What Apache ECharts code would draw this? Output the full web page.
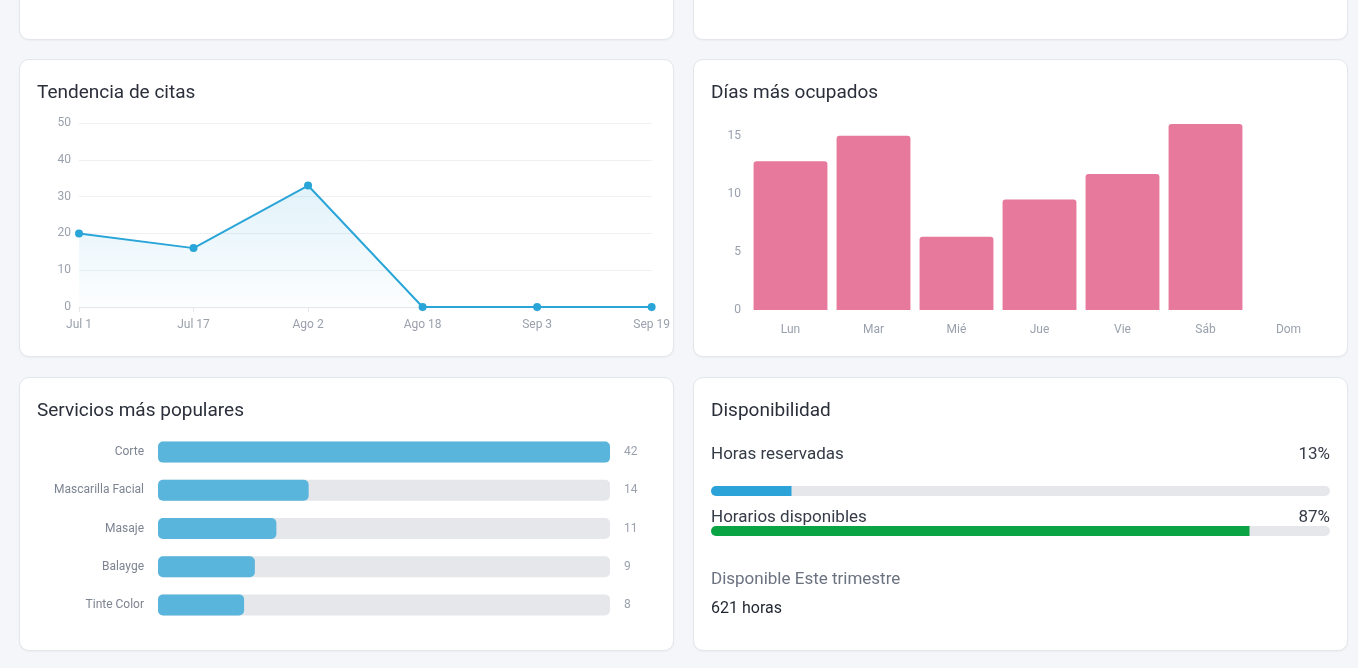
<!DOCTYPE html>
<html><head><meta charset="utf-8">
<script src="https://cdn.jsdelivr.net/npm/echarts@6/dist/echarts.min.js"></script>
<style>
body{margin:0;width:1358px;height:668px;background:#f5f6f9;font-family:Roboto,"Noto Sans",sans-serif;overflow:hidden;position:relative}
.card{position:absolute;background:#fff;border:1px solid #e3e6eb;border-radius:10px;box-shadow:0 1px 2px rgba(0,0,0,.04);box-sizing:border-box}
.title{position:absolute;left:17px;top:20px;font-size:19px;color:#2a2f3a}
.chart{position:absolute;left:0;top:0;width:100%;height:100%}
.t{position:absolute;font-size:17px;color:#353b47}
</style></head><body>
<div class="card" style="left:19px;top:-20px;width:655px;height:60px"></div>
<div class="card" style="left:693px;top:-20px;width:655px;height:60px"></div>
<div class="card" style="left:19px;top:59px;width:655px;height:298px"><div id="c1" class="chart"></div><div class="title">Tendencia de citas</div></div>
<div class="card" style="left:693px;top:59px;width:655px;height:298px"><div id="c2" class="chart"></div><div class="title">Días más ocupados</div></div>
<div class="card" style="left:19px;top:377px;width:655px;height:274px"><div id="c3" class="chart"></div><div class="title">Servicios más populares</div></div>
<div class="card" style="left:693px;top:377px;width:655px;height:274px"><div id="c4" class="chart"></div><div class="title">Disponibilidad</div>
<div class="t" style="left:17px;top:65px">Horas reservadas</div><div class="t" id="p1" style="right:17px;top:65px"></div>
<div class="t" style="left:17px;top:128px">Horarios disponibles</div><div class="t" id="p2" style="right:17px;top:128px"></div>
<div class="t" style="left:17px;top:190px;color:#6b7280">Disponible Este trimestre</div>
<div class="t" style="left:17px;top:220px;color:#1f2430;font-size:16px">621 horas</div>
</div>
<script>
const trendDates = ['Jul 1','Jul 17','Ago 2','Ago 18','Sep 3','Sep 19'];
const trendValues = [20,16,33,0,0,0];
const days = ['Lun','Mar','Mié','Jue','Vie','Sáb','Dom'];
const dayValues = [12.8,15,6.3,9.5,11.7,16,0];
const services = ['Corte','Mascarilla Facial','Masaje','Balayge','Tinte Color'];
const serviceValues = [42,14,11,9,8];
const availLabels = ['Horas reservadas','Horarios disponibles'];
const availPct = [13,87];

const lab = {color:'#9aa1ad',fontSize:12,fontFamily:'Roboto'};
const c1 = echarts.init(document.getElementById('c1'));
c1.setOption({
  grid:{left:59,right:18,top:63,bottom:49},
  xAxis:{type:'category',data:trendDates,boundaryGap:false,axisLine:{lineStyle:{color:'#e5e7eb'}},axisTick:{lineStyle:{color:'#e5e7eb'}},axisLabel:Object.assign({margin:12,showMaxLabel:true},lab)},
  yAxis:{type:'value',min:0,max:50,interval:10,axisLabel:lab,splitLine:{lineStyle:{color:'#eef0f3'}}},
  series:[{type:'line',data:trendValues,symbol:'circle',symbolSize:8,itemStyle:{color:'#2aa5d8'},lineStyle:{width:2,color:'#2aa5d8'},
    areaStyle:{color:new echarts.graphic.LinearGradient(0,0,0,1,[{offset:0,color:'rgba(42,165,216,0.2)'},{offset:1,color:'rgba(42,165,216,0.02)'}])}}]
});

const c2 = echarts.init(document.getElementById('c2'));
c2.setOption({
  grid:{left:55,right:17,top:64,bottom:46},
  xAxis:{type:'category',data:days,axisLine:{show:false},axisTick:{show:false},axisLabel:Object.assign({margin:14},lab)},
  yAxis:{type:'value',min:0,max:16,interval:5,axisLabel:Object.assign({showMaxLabel:false},lab),splitLine:{show:false}},
  series:[{type:'bar',data:dayValues,barCategoryGap:'11%',itemStyle:{color:'#e6799c',borderRadius:[3,3,0,0]}}]
});

const c3 = echarts.init(document.getElementById('c3'));
c3.setOption({
  grid:{left:138,right:63,top:55,bottom:26},
  xAxis:{type:'value',min:0,max:42,show:false},
  yAxis:[{type:'category',data:services,inverse:true,axisLine:{show:false},axisTick:{show:false},axisLabel:Object.assign({margin:14},lab,{color:'#7d8491'})},
         {type:'category',data:serviceValues,inverse:true,position:'right',axisLine:{show:false},axisTick:{show:false},axisLabel:Object.assign({margin:14,align:'left'},lab)}],
  series:[{type:'bar',data:serviceValues,barWidth:21,showBackground:true,backgroundStyle:{color:'#e5e7eb',borderRadius:5},itemStyle:{color:'#5ab5dc',borderRadius:5}}]
});

document.getElementById('p1').textContent = availPct[0]+'%';
document.getElementById('p2').textContent = availPct[1]+'%';
const c4 = echarts.init(document.getElementById('c4'));
c4.setOption({
  grid:{left:17,right:17,top:93,bottom:99},
  xAxis:{type:'value',min:0,max:100,show:false},
  yAxis:{type:'category',data:availLabels,inverse:true,show:false},
  series:[{type:'bar',data:availPct.map((v,i)=>({value:v,itemStyle:{color:i?'#0ba444':'#2ba3d8'}})),barWidth:10,showBackground:true,
    backgroundStyle:{color:'#e5e7eb',borderRadius:5},itemStyle:{borderRadius:[5,0,0,5]}}]
});
</script>
</body></html>
